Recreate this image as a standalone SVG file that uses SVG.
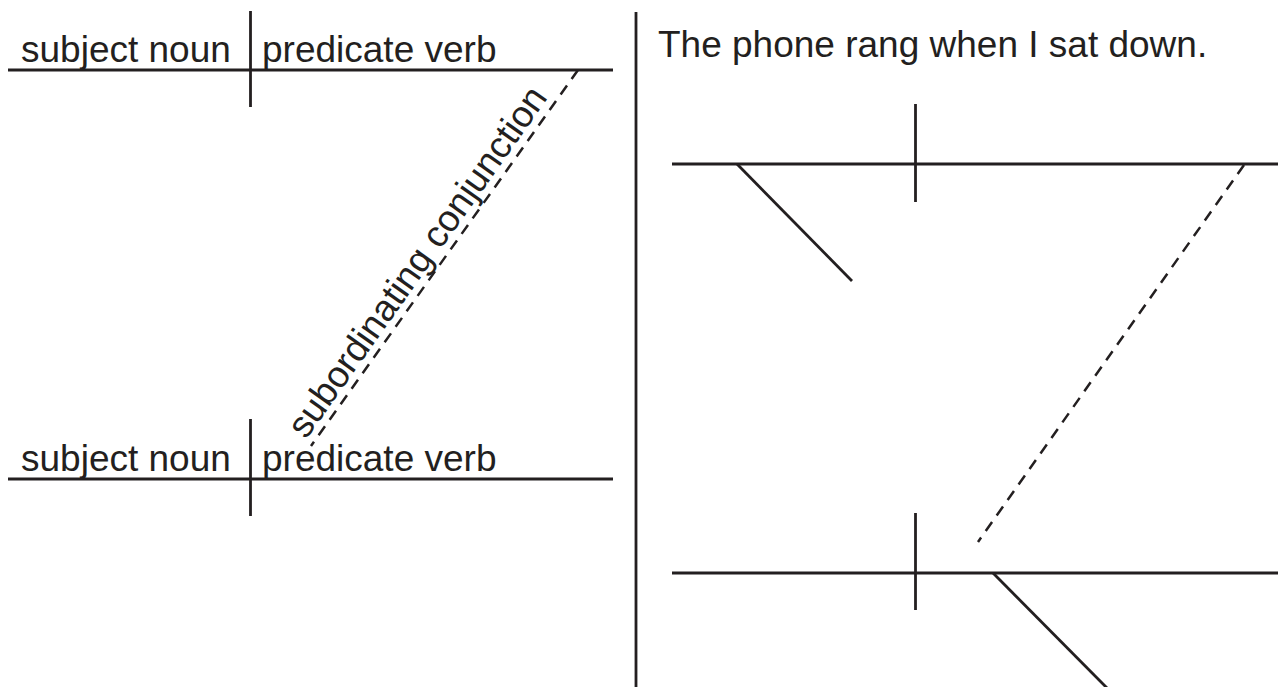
<svg xmlns="http://www.w3.org/2000/svg" width="1278" height="687" viewBox="0 0 1278 687">
<style>
.ln{stroke:#231f20;stroke-width:2.8;fill:none}
.dash{stroke:#231f20;stroke-width:2.5;fill:none;stroke-dasharray:11 8}
.t{font-family:"Liberation Sans",Arial,sans-serif;font-size:37px;fill:#231f20}
</style>
<rect width="1278" height="687" fill="#ffffff"/>
<g id="connectors">
<line class="dash" x1="578" y1="70" x2="311" y2="446"/>
<line class="ln" x1="636" y1="12" x2="636" y2="687"/>
<line class="dash" x1="1244" y1="165" x2="978" y2="542"/>
</g>
<g id="clause-top">
<line class="ln" x1="8" y1="70" x2="613" y2="70"/>
<line class="ln" x1="250.5" y1="11" x2="250.5" y2="107"/>
<text class="t" x="21" y="62">subject noun</text>
<text class="t" x="262" y="62">predicate verb</text>
</g>
<g id="clause-bottom">
<line class="ln" x1="8" y1="479" x2="613" y2="479"/>
<line class="ln" x1="250.5" y1="419" x2="250.5" y2="516"/>
<text class="t" x="21" y="471">subject noun</text>
<text class="t" x="262" y="471">predicate verb</text>
</g>
<g id="conjunction-label">
<text class="t" transform="translate(306,440) rotate(-54.7)">subordinating conjunction</text>
</g>
<g id="example-title">
<text class="t" x="658" y="57">The phone rang when I sat down.</text>
</g>
<g id="example-main">
<line class="ln" x1="672" y1="164" x2="1278" y2="164"/>
<line class="ln" x1="915.5" y1="104" x2="915.5" y2="202"/>
<line class="ln" x1="737" y1="164" x2="852" y2="281"/>
</g>
<g id="example-sub">
<line class="ln" x1="672" y1="573" x2="1278" y2="573"/>
<line class="ln" x1="915.5" y1="513" x2="915.5" y2="610"/>
<line class="ln" x1="993" y1="573" x2="1108" y2="689"/>
</g>
</svg>
